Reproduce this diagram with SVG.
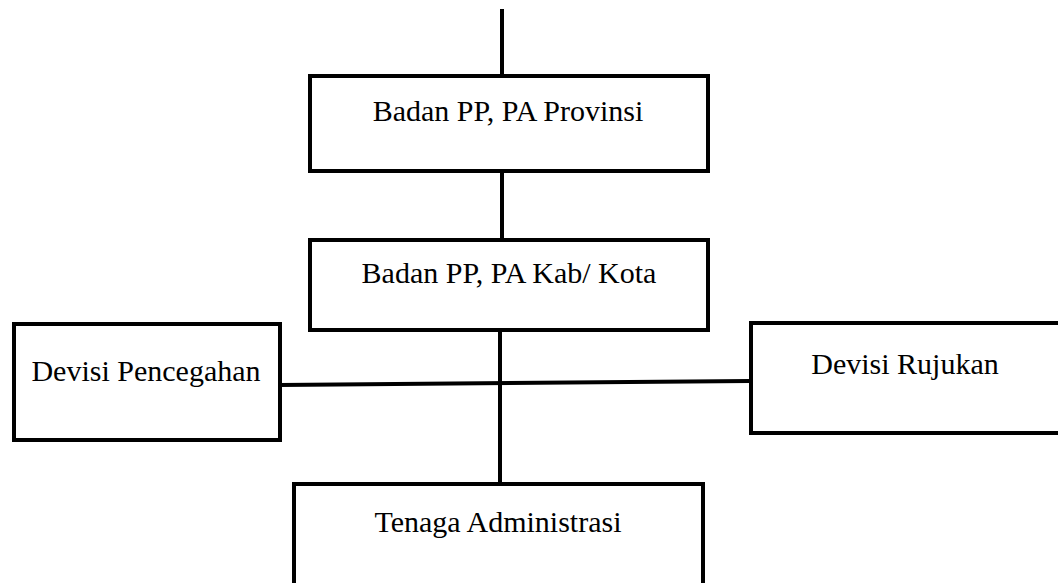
<svg xmlns="http://www.w3.org/2000/svg" width="1058" height="583" viewBox="0 0 1058 583">
<style>
.box{fill:#fff;stroke:#000;stroke-width:4}
.ln{stroke:#000;stroke-width:4;fill:none}
text{font-family:"Liberation Serif","Times New Roman",serif;font-size:30px;fill:#000;text-anchor:middle}
</style>
<rect width="1058" height="583" fill="#fff"/>
<g id="connectors">
<line class="ln" x1="502" y1="9" x2="502" y2="75"/>
<line class="ln" x1="502" y1="171" x2="502" y2="239"/>
<line class="ln" x1="500" y1="330" x2="500" y2="483"/>
<line class="ln" x1="280" y1="385" x2="750" y2="381"/>
</g>
<g id="n-provinsi">
<rect class="box" x="310" y="76" width="398" height="95"/>
<text x="508" y="121">Badan PP, PA Provinsi</text>
</g>
<g id="n-kabkota">
<rect class="box" x="310" y="240" width="398" height="90"/>
<text x="509" y="283">Badan PP, PA Kab/ Kota</text>
</g>
<g id="n-pencegahan">
<rect class="box" x="14" y="324" width="266" height="116"/>
<text x="146" y="381">Devisi Pencegahan</text>
</g>
<g id="n-rujukan">
<rect class="box" x="751" y="323" width="320" height="110"/>
<text x="905" y="374">Devisi Rujukan</text>
</g>
<g id="n-admin">
<rect class="box" x="294" y="484" width="409" height="120"/>
<text x="498" y="532">Tenaga Administrasi</text>
</g>
</svg>
